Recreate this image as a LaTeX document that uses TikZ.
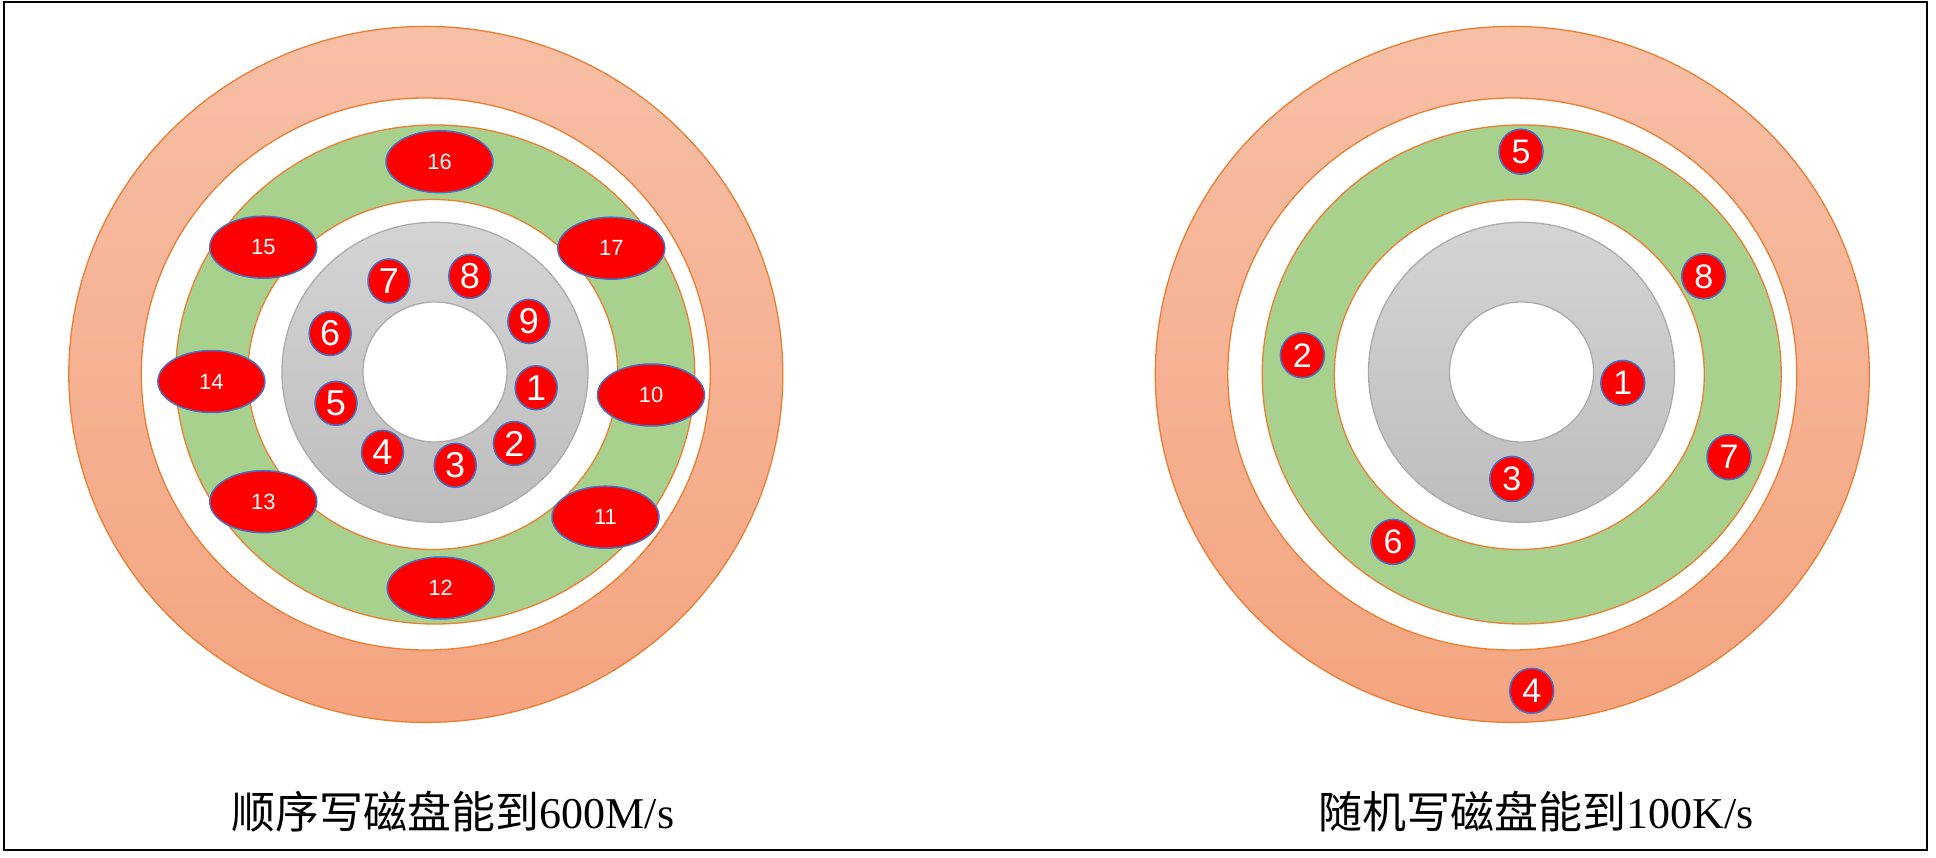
\documentclass[tikz,border=0pt]{standalone}
\usepackage{fontspec}
\setmainfont{Liberation Serif}
\newfontfamily\cjkfont{Noto Sans CJK SC}
\newfontfamily\arialfont{Liberation Sans}
\usetikzlibrary{shapes.geometric}
\definecolor{ringline}{HTML}{ED7D31}
\definecolor{ringtop}{HTML}{F7BFA6}
\definecolor{ringbot}{HTML}{F4A47F}
\definecolor{greenfill}{HTML}{A9D18E}
\definecolor{graytop}{HTML}{D4D4D4}
\definecolor{graybot}{HTML}{BDBDBD}
\definecolor{grayline}{HTML}{ABABAB}
\definecolor{nodeline}{HTML}{4472C4}
\tikzset{
  outerring/.style={draw=ringline, line width=1.3pt, top color=ringtop, bottom color=ringbot},
  gapring/.style={draw=ringline, line width=1.3pt, fill=white},
  greenring/.style={draw=ringline, line width=1.3pt, fill=greenfill},
  graydisk/.style={draw=grayline, line width=1.3pt, top color=graytop, bottom color=graybot},
  holedisk/.style={draw=grayline, line width=1.3pt, fill=white},
  rednode/.style={ellipse, fill=red, draw=nodeline, line width=1.5pt, text=white, inner sep=0pt},
  smallnode/.style={rednode, minimum width=42pt, minimum height=44pt, font=\arialfont\fontsize{36}{36}\selectfont},
  smallnodeb/.style={rednode, minimum width=44pt, minimum height=45pt, font=\arialfont\fontsize{34}{34}\selectfont},
  bignode/.style={rednode, minimum width=107pt, minimum height=62pt, font=\arialfont\fontsize{22}{22}\selectfont},
  caption/.style={anchor=base, inner sep=0pt, font=\fontsize{44}{50}\selectfont}
}
\newcommand\mydisk{%
  \path[outerring] (0,374.4) ellipse [x radius=357, y radius=348];
  \path[gapring] (0,374) ellipse [x radius=284.5, y radius=276];
  \path[greenring] (9.4,374.5) ellipse [x radius=259.5, y radius=249.5];
  \path[gapring] (7,374.5) ellipse [x radius=185, y radius=175];
  \path[graydisk] (9.2,372.3) ellipse [x radius=153, y radius=150];
  \path[holedisk] (9.2,372) ellipse [x radius=72, y radius=70];
}
\begin{document}
\begin{tikzpicture}[x=1pt, y=-1pt]
\useasboundingbox (0,0) rectangle (1936,858);
\fill[white] (0,0) rectangle (1936,858);
\draw[line width=2.5pt, black] (4,2) rectangle (1927,850);
\begin{scope}[shift={(425.8,0)}]
  \mydisk
\end{scope}
\begin{scope}[shift={(1512.3,0)}]
  \mydisk
\end{scope}
% left disk nodes
\node[smallnode] (l1) at (536.2,387.8) {1};
\node[smallnode] (l2) at (514.4,443.5) {2};
\node[smallnode] (l3) at (455.2,465.3) {3};
\node[smallnode] (l4) at (382.5,452.3) {4};
\node[smallnode] (l5) at (336,403.3) {5};
\node[smallnode] (l6) at (330.2,333.5) {6};
\node[smallnode] (l7) at (389,281) {7};
\node[smallnode] (l8) at (469.8,276.3) {8};
\node[smallnode] (l9) at (528.9,321.4) {9};
\node[bignode] (l10) at (651,395) {10};
\node[bignode] (l11) at (605.5,517.2) {11};
\node[bignode] (l12) at (440.7,588) {12};
\node[bignode] (l13) at (263.3,501.7) {13};
\node[bignode] (l14) at (211.4,381.5) {14};
\node[bignode] (l15) at (263.3,247.2) {15};
\node[bignode] (l16) at (439.5,161.7) {16};
\node[bignode] (l17) at (611.3,248.2) {17};
% right disk nodes
\node[smallnodeb] (r1) at (1622.8,383) {1};
\node[smallnodeb] (r2) at (1302.4,355.3) {2};
\node[smallnodeb] (r3) at (1511.8,479) {3};
\node[smallnodeb] (r4) at (1531.7,690.8) {4};
\node[smallnodeb] (r5) at (1521,151.7) {5};
\node[smallnodeb] (r6) at (1393,541.9) {6};
\node[smallnodeb] (r7) at (1729,457.1) {7};
\node[smallnodeb] (r8) at (1703.7,276.3) {8};
% captions
\node[caption] (capl) at (453,828) {{\cjkfont 顺序写磁盘能到}600M/s};
\node[caption] (capr) at (1536,828) {{\cjkfont 随机写磁盘能到}100K/s};
\end{tikzpicture}
\end{document}
